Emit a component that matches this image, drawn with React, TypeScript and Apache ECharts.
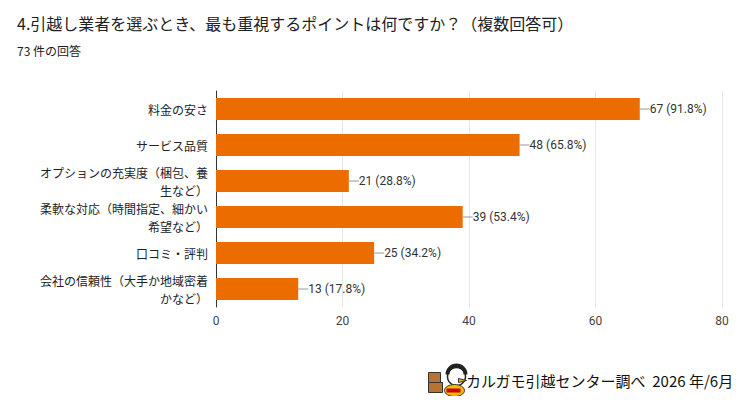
import React, { useEffect, useRef } from 'react';
import * as echarts from 'echarts';

const categories = [
  '料金の安さ',
  'サービス品質',
  'オプションの充実度（梱包、養\n生など）',
  '柔軟な対応（時間指定、細かい\n希望など）',
  '口コミ・評判',
  '会社の信頼性（大手か地域密着\nかなど）',
];
const counts = [67, 48, 21, 39, 25, 13];
const percents = ['91.8%', '65.8%', '28.8%', '53.4%', '34.2%', '17.8%'];
const font = '"Noto Sans CJK JP", Roboto, sans-serif';

const App: React.FC = () => {
  const chartRef = useRef<HTMLDivElement>(null);

  useEffect(() => {
    if (!chartRef.current) return;
    const chart = echarts.init(chartRef.current, undefined, { renderer: 'svg' });
    chart.setOption({
      animation: false,
      textStyle: { fontFamily: font },
      title: [
        {
          text: '4.引越し業者を選ぶとき、最も重視するポイントは何ですか？（複数回答可）',
          left: 4, top: 2,
          textStyle: { fontSize: 16, fontWeight: 'normal', color: '#202124', fontFamily: font },
        },
        {
          text: '73 件の回答',
          left: 4, top: 31,
          textStyle: { fontSize: 12, fontWeight: 'normal', color: '#202124', fontFamily: font },
        },
      ],
      grid: { left: 208, right: 20, top: 83, bottom: 89 },
      xAxis: {
        type: 'value', min: 0, max: 80, interval: 20,
        axisLabel: { color: '#444', fontSize: 12, fontFamily: 'Roboto' },
        splitLine: { lineStyle: { color: '#e6e6e6' } },
      },
      yAxis: {
        type: 'category', inverse: true, data: categories,
        axisLine: { lineStyle: { color: '#333' } },
        axisTick: { show: false },
        axisLabel: { color: '#222', fontSize: 12, lineHeight: 18, margin: 8, fontFamily: font },
      },
      series: [{
        type: 'bar',
        data: counts,
        barWidth: 22,
        itemStyle: { color: '#ec6c00' },
        label: {
          show: true, position: 'right', distance: 0,
          formatter: (p: any) => `{l|}${counts[p.dataIndex]} (${percents[p.dataIndex]})`,
          color: '#333', fontSize: 12, fontFamily: 'Roboto',
          rich: { l: { width: 10, height: 1, backgroundColor: '#999' } },
        },
      }],
      graphic: [
        {
          type: 'group', left: 420, top: 355,
          children: [
            { type: 'rect', shape: { x: 0, y: 6, width: 12, height: 10 }, style: { fill: '#b87333', stroke: '#333' } },
            { type: 'rect', shape: { x: 0, y: 16, width: 14, height: 10 }, style: { fill: '#b87333', stroke: '#333' } },
            { type: 'circle', shape: { cx: 28, cy: 10, r: 9 }, style: { fill: '#fff', stroke: '#222', lineWidth: 1.5 } },
            { type: 'arc', shape: { cx: 28, cy: 8, r: 9, startAngle: Math.PI, endAngle: 2 * Math.PI }, style: { stroke: '#222', lineWidth: 4, fill: 'none' } },
            { type: 'polygon', shape: { points: [[30, 12], [38, 14], [30, 16]] }, style: { fill: '#f5b800', stroke: '#333' } },
            { type: 'ellipse', shape: { cx: 26, cy: 24, rx: 10, ry: 6 }, style: { fill: '#f5b800', stroke: '#333' } },
            { type: 'rect', shape: { x: 18, y: 22, width: 14, height: 4 }, style: { fill: '#c00' } },
          ],
        },
        {
          type: 'text', left: 458, top: 365,
          style: { text: 'カルガモ引越センター調べ  2026 年/6月', fontSize: 15, fill: '#111', fontFamily: font },
        },
      ],
    });
    return () => chart.dispose();
  }, []);

  return <div ref={chartRef} style={{ width: 734, height: 388 }} />;
};

export default App;
